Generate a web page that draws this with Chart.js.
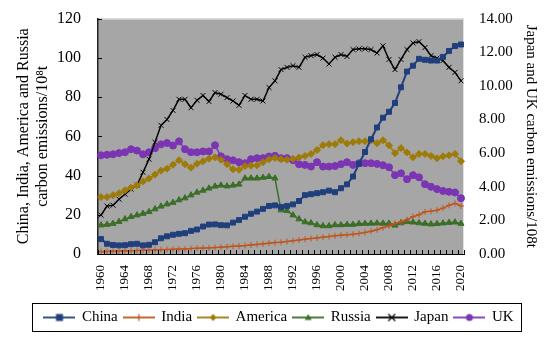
<!DOCTYPE html>
<html lang="en">
<head>
    <meta charset="UTF-8">
    <title>Carbon emissions</title>
    <script src="https://cdn.jsdelivr.net/npm/chart.js"></script>
    <style>
        html, body { margin: 0; padding: 0; background: #fff; }
        #wrap { width: 550px; height: 340px; }
    </style>
</head>
<body>
    <div id="wrap"><canvas id="emissionChart"></canvas></div>

    <script>
        const years = [1960, 1961, 1962, 1963, 1964, 1965, 1966, 1967, 1968, 1969,
            1970, 1971, 1972, 1973, 1974, 1975, 1976, 1977, 1978, 1979,
            1980, 1981, 1982, 1983, 1984, 1985, 1986, 1987, 1988, 1989,
            1990, 1991, 1992, 1993, 1994, 1995, 1996, 1997, 1998, 1999,
            2000, 2001, 2002, 2003, 2004, 2005, 2006, 2007, 2008, 2009,
            2010, 2011, 2012, 2013, 2014, 2015, 2016, 2017, 2018, 2019, 2020];
        const shownYears = [1960, 1964, 1968, 1972, 1976, 1980, 1984, 1988, 1992, 1996, 2000, 2004, 2008, 2012, 2016, 2020];

        // left axis (10^8 t)
        const china = [7.6, 5.2, 4.6, 4.4, 4.5, 5.0, 5.2, 4.4, 4.7, 6.0,
            8.0, 9.0, 9.8, 10.3, 10.6, 11.8, 12.5, 14.0, 15.0, 15.1,
            14.7, 14.6, 16.0, 17.3, 19.0, 20.5, 21.6, 23.0, 24.5, 24.8,
            24.0, 24.5, 25.3, 27.0, 30.0, 30.5, 31.0, 31.5, 32.3, 31.5,
            33.5, 35.5, 39.5, 46.0, 52.0, 58.5, 64.5, 69.5, 72.5, 77.0,
            85.0, 93.0, 96.0, 99.5, 99.0, 98.6, 98.6, 100.5, 103.5, 106.0, 106.8];
        const india = [1.2, 1.3, 1.4, 1.5, 1.6, 1.7, 1.8, 1.9, 2.0, 2.1,
            2.2, 2.3, 2.4, 2.5, 2.6, 2.8, 2.9, 3.0, 3.1, 3.3,
            3.5, 3.7, 3.9, 4.1, 4.3, 4.6, 4.9, 5.2, 5.5, 5.8,
            6.0, 6.4, 6.8, 7.1, 7.5, 7.9, 8.2, 8.6, 8.9, 9.3,
            9.6, 9.8, 10.1, 10.5, 11.0, 11.6, 12.4, 13.4, 14.3, 15.6,
            16.4, 17.5, 19.0, 20.0, 21.5, 21.8, 22.3, 23.4, 24.8, 25.8, 24.5];
        const america = [29.0, 29.0, 30.0, 31.0, 32.5, 33.8, 35.0, 37.0, 38.5, 40.5,
            42.5, 43.5, 45.5, 47.8, 45.8, 44.0, 46.0, 47.3, 48.6, 49.3,
            48.0, 45.8, 43.2, 43.0, 44.8, 45.0, 45.2, 46.8, 48.3, 49.0,
            48.3, 48.0, 48.5, 49.2, 50.0, 51.0, 53.0, 55.5, 56.0, 56.0,
            58.0, 56.3, 57.0, 57.5, 57.5, 58.0, 56.5, 58.0, 55.4, 51.4,
            54.0, 51.8, 49.3, 51.0, 51.0, 50.0, 48.8, 49.8, 50.3, 51.0, 47.3];
        const russia = [14.7, 15.0, 15.5, 16.5, 17.8, 19.0, 19.8, 20.6, 21.5, 22.9,
            24.3, 25.4, 26.2, 27.5, 28.5, 30.0, 31.4, 32.4, 33.5, 34.5,
            35.0, 34.6, 35.0, 35.5, 38.6, 38.6, 38.6, 39.0, 39.4, 38.6,
            22.4, 22.0, 19.8, 17.8, 16.3, 15.8, 14.8, 14.3, 14.3, 14.8,
            14.8, 15.0, 15.0, 15.4, 15.5, 15.6, 15.7, 15.6, 15.6, 14.6,
            15.8, 16.4, 16.2, 15.8, 15.5, 15.2, 15.4, 15.7, 16.0, 16.2, 15.5];

        // right axis (10^8 t)
        const japan = [2.31, 2.85, 2.90, 3.26, 3.56, 3.86, 4.10, 4.86, 5.64, 6.64,
            7.65, 8.00, 8.54, 9.20, 9.20, 8.70, 9.14, 9.43, 9.07, 9.60,
            9.50, 9.30, 9.10, 8.84, 9.43, 9.20, 9.20, 9.10, 9.90, 10.30,
            10.97, 11.10, 11.20, 11.10, 11.70, 11.80, 11.86, 11.65, 11.30, 11.70,
            11.86, 11.75, 12.16, 12.20, 12.20, 12.16, 11.95, 12.38, 11.57, 10.97,
            11.57, 12.16, 12.55, 12.63, 12.28, 11.80, 11.65, 11.50, 11.10, 10.80, 10.30];
        const uk = [5.87, 5.90, 5.93, 6.00, 6.05, 6.23, 6.15, 5.93, 6.05, 6.29,
            6.52, 6.60, 6.45, 6.70, 6.23, 6.05, 6.05, 6.10, 6.10, 6.47,
            5.81, 5.64, 5.57, 5.46, 5.40, 5.64, 5.70, 5.70, 5.80, 5.84,
            5.70, 5.70, 5.58, 5.34, 5.30, 5.20, 5.46, 5.20, 5.20, 5.23,
            5.34, 5.46, 5.30, 5.40, 5.40, 5.40, 5.36, 5.28, 5.16, 4.69,
            4.80, 4.45, 4.69, 4.56, 4.15, 4.00, 3.86, 3.75, 3.70, 3.66, 3.32];

        const serif = '"Liberation Serif", "DejaVu Serif", serif';

        // little line+marker picture for the legend
        function legendIcon(color, style) {
            const c = document.createElement('canvas');
            c.width = 32; c.height = 12;
            const g = c.getContext('2d');
            g.strokeStyle = color; g.fillStyle = color; g.lineWidth = 1.8;
            g.beginPath(); g.moveTo(0, 6); g.lineTo(32, 6); g.stroke();
            g.lineWidth = 1.2;
            const x = 16, y = 6, r = 3.5;
            g.beginPath();
            if (style === 'rect') {
                g.fillRect(x - r, y - r, 2 * r, 2 * r);
            } else if (style === 'cross') {
                g.moveTo(x, y - r); g.lineTo(x, y + r); g.stroke();
            } else if (style === 'rectRot') {
                g.moveTo(x, y - r); g.lineTo(x + r, y); g.lineTo(x, y + r); g.lineTo(x - r, y); g.closePath(); g.fill();
            } else if (style === 'triangle') {
                g.moveTo(x, y - r); g.lineTo(x + r, y + r * 0.7); g.lineTo(x - r, y + r * 0.7); g.closePath(); g.fill();
            } else if (style === 'crossRot') {
                g.moveTo(x - r, y - r); g.lineTo(x + r, y + r); g.moveTo(x + r, y - r); g.lineTo(x - r, y + r); g.stroke();
            } else {
                g.arc(x, y, r, 0, Math.PI * 2); g.fill();
            }
            return c;
        }

        function series(label, data, color, style, axis, extra) {
            return Object.assign({
                label: label,
                data: data,
                yAxisID: axis,
                borderColor: color,
                backgroundColor: color,
                pointBackgroundColor: color,
                pointBorderColor: color,
                pointStyle: style,
                pointRadius: 3.5,
                pointBorderWidth: 1,
                borderWidth: 2,
                tension: 0,
                legendIcon: legendIcon(color, style)
            }, extra || {});
        }

        const plotBackground = {
            id: 'plotBackground',
            beforeDraw(chart) {
                const a = chart.chartArea, ctx = chart.ctx;
                ctx.save();
                ctx.fillStyle = '#a6a6a6';
                ctx.fillRect(a.left, a.top, a.right - a.left, a.bottom - a.top);
                ctx.strokeStyle = '#e0e0e0';
                ctx.lineWidth = 1;
                ctx.beginPath();
                ctx.moveTo(a.left, a.top + 0.5); ctx.lineTo(a.right - 0.5, a.top + 0.5); ctx.lineTo(a.right - 0.5, a.bottom);
                ctx.stroke();
                ctx.restore();
            },
            afterDatasetsDraw(chart) {
                // inside tick marks, taken from the scales
                const ctx = chart.ctx, a = chart.chartArea;
                const xs = chart.scales.x, ys = chart.scales.y;
                ctx.save();
                ctx.strokeStyle = '#000';
                ctx.lineWidth = 1;
                ctx.beginPath();
                for (let i = 0; i <= years.length; i++) {
                    const px = Math.round(xs.getPixelForValue(i - 0.5)) + 0.5;
                    ctx.moveTo(px, a.bottom); ctx.lineTo(px, a.bottom - 4);
                }
                ys.ticks.forEach(t => {
                    const py = Math.round(ys.getPixelForValue(t.value)) + 0.5;
                    ctx.moveTo(a.left, py); ctx.lineTo(a.left + 4, py);
                });
                ctx.stroke();
                ctx.restore();
            },
            afterDraw(chart) {
                const boxes = chart.legend.legendHitBoxes;
                if (!boxes || !boxes.length) return;
                const ctx = chart.ctx;
                const left = Math.min(...boxes.map(b => b.left)) - 12;
                const right = Math.max(...boxes.map(b => b.left + b.width)) + 8;
                const top = Math.min(...boxes.map(b => b.top)) - 7;
                const bottom = Math.max(...boxes.map(b => b.top + b.height)) + 6;
                ctx.save();
                ctx.strokeStyle = '#000';
                ctx.lineWidth = 1;
                ctx.strokeRect(Math.round(left) + 0.5, Math.round(top) + 0.5, Math.round(right - left), Math.round(bottom - top));
                ctx.restore();
            }
        };

        const emissionChart = new Chart(document.getElementById('emissionChart').getContext('2d'), {
            type: 'line',
            data: {
                labels: years,
                datasets: [
                    series('China', china, '#203f7c', 'rect', 'y'),
                    series('India', india, '#c0551c', 'cross', 'y', { borderWidth: 1.5, pointRadius: 3 }),
                    series('America', america, '#9e7b08', 'rectRot', 'y', { borderWidth: 1.5 }),
                    series('Russia', russia, '#3c6e28', 'triangle', 'y', { borderWidth: 1.5 }),
                    series('Japan', japan, '#000000', 'crossRot', 'y2', { borderWidth: 1.5 }),
                    series('UK', uk, '#7b35b3', 'circle', 'y2', { borderWidth: 1.5 })
                ]
            },
            options: {
                responsive: true,
                maintainAspectRatio: false,
                animation: false,
                layout: { padding: { left: 14, right: 6, top: 0, bottom: 5 } },
                scales: {
                    x: {
                        offset: true,
                        grid: { display: false },
                        border: { color: '#000', width: 1 },
                        ticks: {
                            autoSkip: false,
                            minRotation: 90,
                            maxRotation: 90,
                            padding: 3,
                            color: '#000',
                            font: { family: serif, size: 13 },
                            callback: function (value, index) {
                                return shownYears.includes(years[index]) ? String(years[index]) : null;
                            }
                        },
                        afterFit: function (scale) { scale.height = 50; }
                    },
                    y: {
                        position: 'left',
                        min: 0,
                        max: 120,
                        grid: { display: false },
                        border: { color: '#222', width: 1.5 },
                        ticks: { stepSize: 20, color: '#000', padding: 9, font: { family: serif, size: 16 } },
                        title: {
                            display: true,
                            text: ['China, India, America and Russia', 'carbon emissions/10\u2078t'],
                            color: '#000',
                            font: { family: serif, size: 16 },
                            padding: 0
                        },
                        afterFit: function (scale) { scale.width = 84; }
                    },
                    y2: {
                        position: 'right',
                        min: 0,
                        max: 14,
                        grid: { display: false },
                        border: { display: false },
                        ticks: {
                            stepSize: 2,
                            color: '#000',
                            padding: 7,
                            font: { family: serif, size: 15 },
                            callback: v => v.toFixed(2)
                        },
                        title: {
                            display: true,
                            text: 'Japan and UK carbon emissions/108t',
                            color: '#000',
                            font: { family: serif, size: 15 },
                            padding: 4
                        },
                        afterFit: function (scale) { scale.width = 80; }
                    }
                },
                plugins: {
                    legend: {
                        position: 'bottom',
                        labels: {
                            usePointStyle: true,
                            pointStyleWidth: 30,
                            padding: 6,
                            color: '#000',
                            font: { family: serif, size: 15 },
                            generateLabels: function (chart) {
                                return chart.data.datasets.map((ds, i) => ({
                                    text: ds.label,
                                    pointStyle: ds.legendIcon,
                                    fillStyle: ds.borderColor,
                                    strokeStyle: ds.borderColor,
                                    lineWidth: 0,
                                    hidden: false,
                                    datasetIndex: i,
                                    fontColor: '#000'
                                }));
                            }
                        }
                    },
                    tooltip: { enabled: false }
                }
            },
            plugins: [plotBackground]
        });
    </script>
</body>
</html>
